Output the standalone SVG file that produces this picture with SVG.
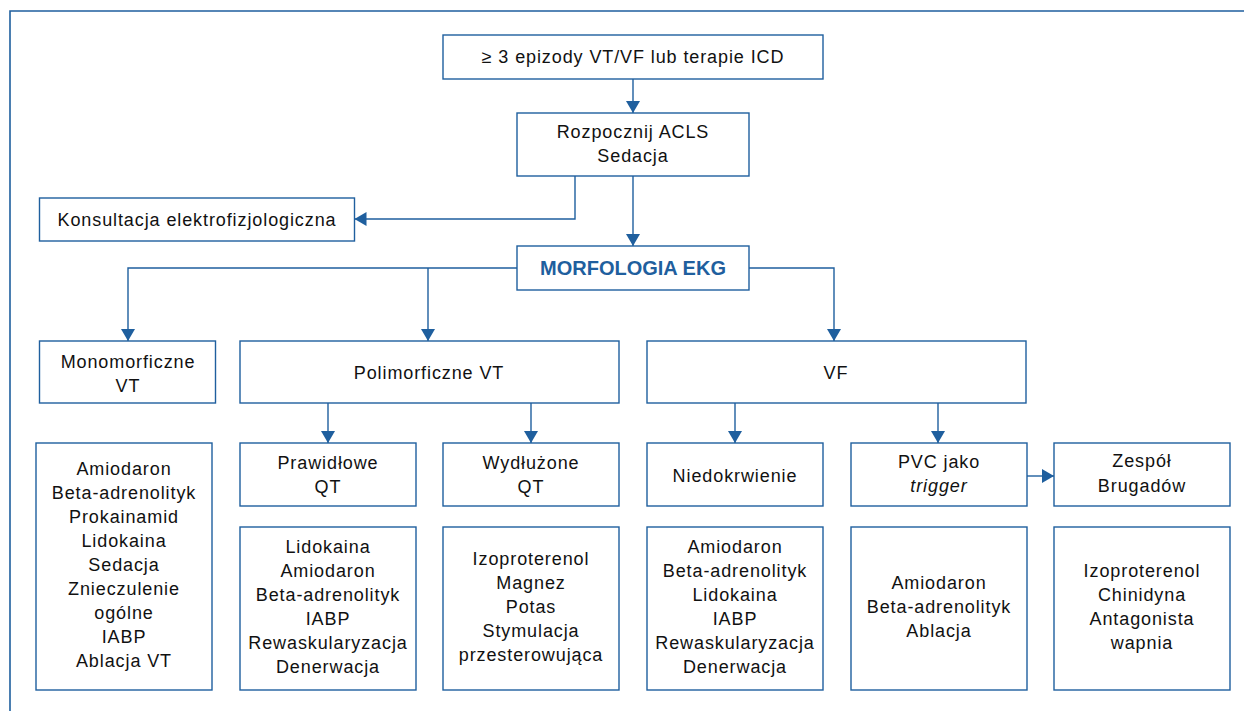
<svg xmlns="http://www.w3.org/2000/svg" width="1244" height="711" viewBox="0 0 1244 711">
<defs>
<style>
.box{fill:#ffffff;stroke:#1f5f9e;stroke-width:1.4}
.t{font-family:"Liberation Sans",Arial,Helvetica,sans-serif;font-size:18px;letter-spacing:0.9px;fill:#111111;text-anchor:middle}
.b{font-family:"Liberation Sans",Arial,Helvetica,sans-serif;font-size:20px;font-weight:bold;fill:#1f5f9e;text-anchor:middle}
.i{font-style:italic}
.c{fill:none;stroke:#1f5f9e;stroke-width:1.4}
</style>
<marker id="ah" markerUnits="userSpaceOnUse" markerWidth="13" markerHeight="14" refX="12" refY="7" orient="auto">
<path d="M0,0 L12,7 L0,14 z" fill="#1f5f9e"/>
</marker>
</defs>
<rect width="1244" height="711" fill="#ffffff"/>
<path d="M10,711 V11 H1244" fill="none" stroke="#1f5f9e" stroke-width="1.6"/>

<g id="connectors">
<path class="c" d="M633,79 V113" marker-end="url(#ah)"/>
<path class="c" d="M575,176 V219 H354.5" marker-end="url(#ah)"/>
<path class="c" d="M633,176 V246" marker-end="url(#ah)"/>
<path class="c" d="M517,268 H128 V341" marker-end="url(#ah)"/>
<path class="c" d="M428,268 V341" marker-end="url(#ah)"/>
<path class="c" d="M749,268 H834 V341" marker-end="url(#ah)"/>
<path class="c" d="M328,403 V443" marker-end="url(#ah)"/>
<path class="c" d="M531,403 V443" marker-end="url(#ah)"/>
<path class="c" d="M735,403 V443" marker-end="url(#ah)"/>
<path class="c" d="M938,403 V443" marker-end="url(#ah)"/>
<path class="c" d="M1027,476 H1054" marker-end="url(#ah)"/>
</g>

<g id="n-start">
<rect class="box" x="443" y="35" width="380" height="44"/>
<text class="t" x="633" y="63">≥ 3 epizody VT/VF lub terapie ICD</text>
</g>
<g id="n-acls">
<rect class="box" x="517" y="113" width="232" height="63"/>
<text class="t" x="633" y="138">Rozpocznij ACLS</text>
<text class="t" x="633" y="162">Sedacja</text>
</g>
<g id="n-konsultacja">
<rect class="box" x="39.5" y="198" width="315" height="43"/>
<text class="t" x="197" y="225.5">Konsultacja elektrofizjologiczna</text>
</g>
<g id="n-morfologia">
<rect class="box" x="517" y="246" width="232" height="44"/>
<text class="b" x="633" y="275">MORFOLOGIA EKG</text>
</g>
<g id="n-mono">
<rect class="box" x="39.5" y="341" width="176" height="62"/>
<text class="t" x="128" y="368">Monomorficzne</text>
<text class="t" x="128" y="392">VT</text>
</g>
<g id="n-poli">
<rect class="box" x="240" y="341" width="379" height="62"/>
<text class="t" x="429" y="379">Polimorficzne VT</text>
</g>
<g id="n-vf">
<rect class="box" x="647" y="341" width="379" height="62"/>
<text class="t" x="836" y="379">VF</text>
</g>
<g id="n-mono-tx">
<rect class="box" x="36" y="443" width="176" height="247"/>
<text class="t" x="124" y="475">Amiodaron</text>
<text class="t" x="124" y="499">Beta-adrenolityk</text>
<text class="t" x="124" y="523">Prokainamid</text>
<text class="t" x="124" y="547">Lidokaina</text>
<text class="t" x="124" y="571">Sedacja</text>
<text class="t" x="124" y="595">Znieczulenie</text>
<text class="t" x="124" y="619">ogólne</text>
<text class="t" x="124" y="643">IABP</text>
<text class="t" x="124" y="667">Ablacja VT</text>
</g>
<g id="n-prawidlowe">
<rect class="box" x="240" y="443" width="176" height="63"/>
<text class="t" x="328" y="469">Prawidłowe</text>
<text class="t" x="328" y="493">QT</text>
</g>
<g id="n-wydluzone">
<rect class="box" x="443" y="443" width="176" height="63"/>
<text class="t" x="531" y="469">Wydłużone</text>
<text class="t" x="531" y="493">QT</text>
</g>
<g id="n-niedokrwienie">
<rect class="box" x="647" y="443" width="176" height="63"/>
<text class="t" x="735" y="481.5">Niedokrwienie</text>
</g>
<g id="n-pvc">
<rect class="box" x="851" y="443" width="176" height="63"/>
<text class="t" x="939" y="468">PVC jako</text>
<text class="t i" x="939" y="492">trigger</text>
</g>
<g id="n-brugada">
<rect class="box" x="1054" y="443" width="176" height="63"/>
<text class="t" x="1142" y="467">Zespół</text>
<text class="t" x="1142" y="492">Brugadów</text>
</g>
<g id="n-prawidlowe-tx">
<rect class="box" x="240" y="527" width="176" height="163"/>
<text class="t" x="328" y="553">Lidokaina</text>
<text class="t" x="328" y="577">Amiodaron</text>
<text class="t" x="328" y="601">Beta-adrenolityk</text>
<text class="t" x="328" y="625">IABP</text>
<text class="t" x="328" y="649">Rewaskularyzacja</text>
<text class="t" x="328" y="673">Denerwacja</text>
</g>
<g id="n-wydluzone-tx">
<rect class="box" x="443" y="527" width="176" height="163"/>
<text class="t" x="531" y="565">Izoproterenol</text>
<text class="t" x="531" y="589">Magnez</text>
<text class="t" x="531" y="613">Potas</text>
<text class="t" x="531" y="637">Stymulacja</text>
<text class="t" x="531" y="661">przesterowująca</text>
</g>
<g id="n-niedokrwienie-tx">
<rect class="box" x="647" y="527" width="176" height="163"/>
<text class="t" x="735" y="553">Amiodaron</text>
<text class="t" x="735" y="577">Beta-adrenolityk</text>
<text class="t" x="735" y="601">Lidokaina</text>
<text class="t" x="735" y="625">IABP</text>
<text class="t" x="735" y="649">Rewaskularyzacja</text>
<text class="t" x="735" y="673">Denerwacja</text>
</g>
<g id="n-pvc-tx">
<rect class="box" x="851" y="527" width="176" height="163"/>
<text class="t" x="939" y="589">Amiodaron</text>
<text class="t" x="939" y="613">Beta-adrenolityk</text>
<text class="t" x="939" y="637">Ablacja</text>
</g>
<g id="n-brugada-tx">
<rect class="box" x="1054" y="527" width="176" height="163"/>
<text class="t" x="1142" y="577">Izoproterenol</text>
<text class="t" x="1142" y="601">Chinidyna</text>
<text class="t" x="1142" y="625">Antagonista</text>
<text class="t" x="1142" y="649">wapnia</text>
</g>
</svg>
